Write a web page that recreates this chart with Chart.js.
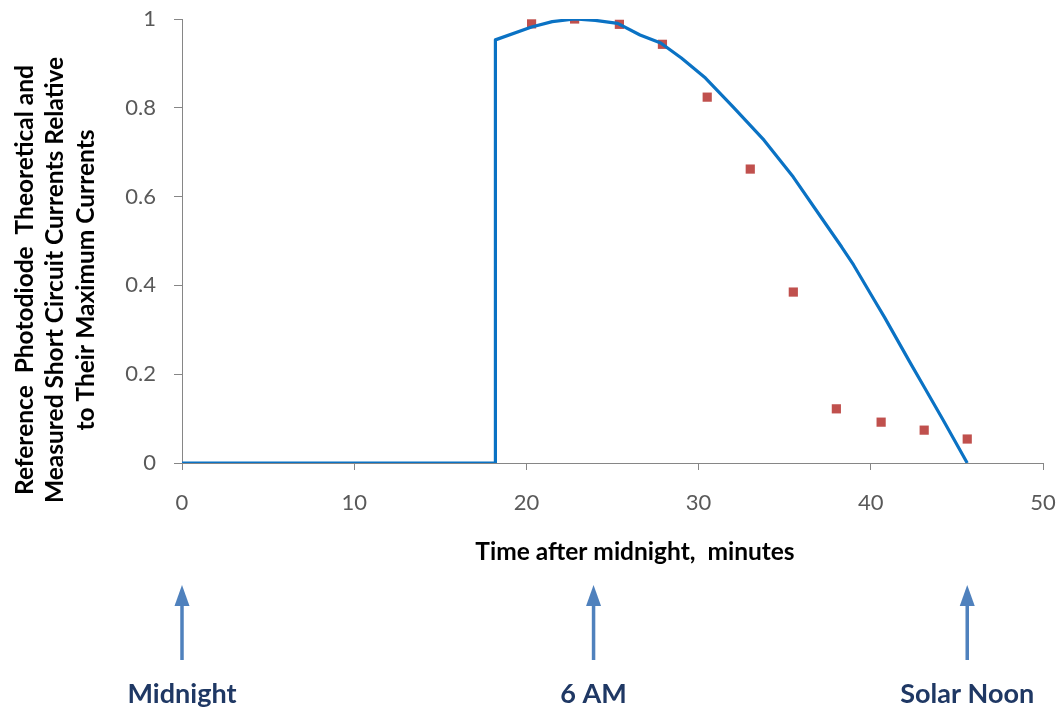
<!DOCTYPE html>
<html>
<head>
<meta charset="utf-8">
<script src="https://cdn.jsdelivr.net/npm/chart.js@4/dist/chart.umd.min.js"></script>
<style>
  html, body { margin: 0; padding: 0; background: #fff; }
  #wrap { width: 1060px; height: 712px; }
</style>
</head>
<body>
<div id="wrap"><canvas id="c" width="1060" height="712"></canvas></div>
<script>
// theoretical curve (minutes, relative current)
const theoryX = [0, 18.2, 18.2, 20.3, 21.5, 22.8, 24.0, 25.3, 26.6, 27.8, 29.0, 30.4, 32.0, 33.8, 35.5, 37.1, 38.3, 39.0, 40.2, 40.8, 42.3, 43.1, 44.2, 45.6];
const theoryY = [0, 0, 0.953, 0.982, 0.994, 1.0, 0.997, 0.99, 0.964, 0.946, 0.912, 0.867, 0.802, 0.727, 0.644, 0.554, 0.487, 0.446, 0.367, 0.328, 0.225, 0.171, 0.097, 0];

// measured points
const measuredX = [20.3, 22.8, 25.4, 27.9, 30.5, 33.0, 35.5, 38.0, 40.6, 43.1, 45.6];
const measuredY = [0.989, 1.0, 0.988, 0.943, 0.824, 0.662, 0.385, 0.122, 0.092, 0.074, 0.054];

// markers under the axis
const markerLabels = ["Midnight", "6 AM", "Solar Noon"];
const markerX = [0, 23.9, 45.6];

const yTitle = ["Reference  Photodiode  Theoretical and", "Measured Short Circuit Currents Relative", "to Their Maximum Currents"];
const xTitle = "Time after midnight,  minutes";

const FONT = "Lato, 'Open Sans', 'Liberation Sans', sans-serif";

const toPoints = (xs, ys) => xs.map((x, i) => ({ x: x, y: ys[i] }));

const extrasPlugin = {
  id: "extras",
  afterDraw(chart) {
    const ctx = chart.ctx;
    const xs = chart.scales.x;
    ctx.save();

    // y title, rotated
    ctx.fillStyle = "#000";
    ctx.font = "bold 24.5px " + FONT;
    ctx.textAlign = "center";
    ctx.textBaseline = "middle";
    const lineX = [25, 55, 86];
    yTitle.forEach((t, i) => {
      ctx.save();
      ctx.translate(lineX[i], 280);
      ctx.rotate(-Math.PI / 2);
      ctx.fillText(t, 0, 0);
      ctx.restore();
    });

    // x title
    ctx.font = "bold 24.5px " + FONT;
    ctx.fillText(xTitle, 635, 552);

    // arrows and labels
    markerLabels.forEach((lbl, i) => {
      const px = xs.getPixelForValue(markerX[i]);
      const tip = 585, base = 660;
      ctx.strokeStyle = "#4f81bd";
      ctx.fillStyle = "#4f81bd";
      ctx.lineWidth = 3.5;
      ctx.beginPath();
      ctx.moveTo(px, base);
      ctx.lineTo(px, tip + 16);
      ctx.stroke();
      ctx.beginPath();
      ctx.moveTo(px, tip);
      ctx.lineTo(px - 7.5, tip + 21);
      ctx.lineTo(px + 7.5, tip + 21);
      ctx.closePath();
      ctx.fill();

      ctx.fillStyle = "#1f3864";
      ctx.font = "bold 27px " + FONT;
      ctx.fillText(lbl, px, 694);
    });
    ctx.restore();
  }
};

new Chart(document.getElementById("c"), {
  type: "scatter",
  data: {
    datasets: [
      {
        label: "Theoretical",
        data: toPoints(theoryX, theoryY),
        showLine: true,
        borderColor: "#0a72c4",
        borderWidth: 3.2,
        borderJoinStyle: "round",
        pointRadius: 0,
        tension: 0,
        fill: false
      },
      {
        label: "Measured",
        data: toPoints(measuredX, measuredY),
        showLine: false,
        pointStyle: "rect",
        pointRadius: 6.5,
        backgroundColor: "#c0504d",
        borderColor: "#c0504d",
        borderWidth: 0
      }
    ]
  },
  options: {
    responsive: false,
    animation: false,
    layout: { padding: { top: 19, right: 17, left: 0, bottom: 0 } },
    plugins: {
      legend: { display: false },
      tooltip: { enabled: false }
    },
    scales: {
      x: {
        type: "linear",
        min: 0,
        max: 50,
        ticks: { stepSize: 10, color: "#595959", font: { family: FONT, size: 22 }, padding: 20 },
        grid: { drawOnChartArea: false, drawTicks: true, tickLength: 7, color: "#868686" },
        border: { color: "#868686", width: 1 },
        afterFit(scale) {
          scale.height = 249;
          scale.paddingLeft = 0;
          scale.paddingRight = 0;
        }
      },
      y: {
        min: 0,
        max: 1,
        ticks: {
          stepSize: 0.2,
          color: "#595959",
          font: { family: FONT, size: 22 },
          padding: 18,
          callback: v => String(+v.toFixed(1))
        },
        grid: { drawOnChartArea: false, drawTicks: true, tickLength: 8, color: "#868686" },
        border: { color: "#868686", width: 1 },
        afterFit(scale) {
          scale.width = 182;
          scale.paddingTop = 0;
          scale.paddingBottom = 0;
        }
      }
    }
  },
  plugins: [extrasPlugin]
});
</script>
</body>
</html>
